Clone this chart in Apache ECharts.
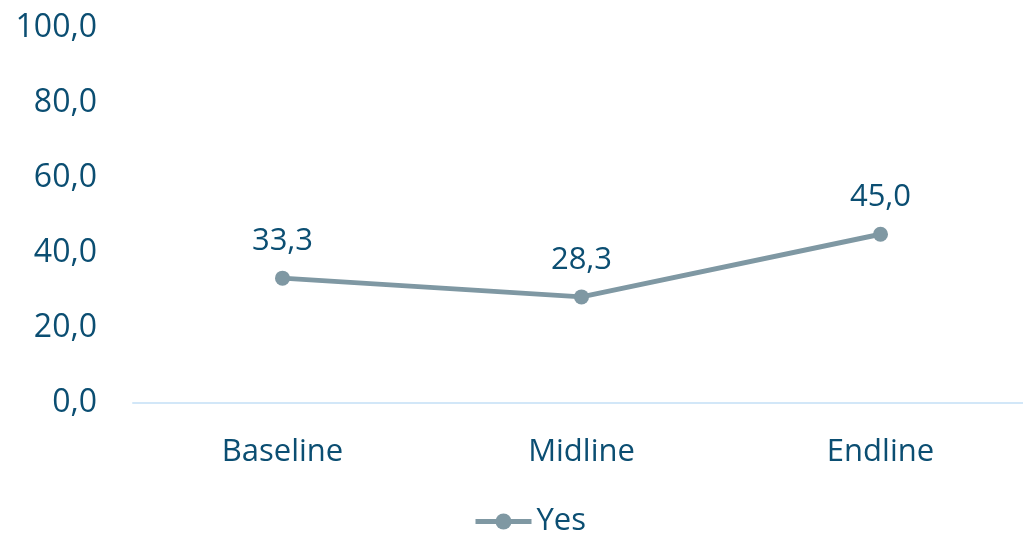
<!DOCTYPE html>
<html>
<head>
<meta charset="utf-8">
<script src="https://cdn.jsdelivr.net/npm/echarts@6/dist/echarts.min.js"></script>
<style>
  html, body { margin: 0; padding: 0; background: #fff; }
  #chart { width: 1023px; height: 533px; }
</style>
</head>
<body>
<div id="chart"></div>
<script>
// Survey rounds and share answering "Yes" (%)
const categories = ['Baseline', 'Midline', 'Endline'];
const yesValues = [33.3, 28.3, 45.0];
const seriesName = 'Yes';

const textColor = '#0B4E72';
const lineColor = '#7F98A3';
const fontFamily = '"Open Sans", sans-serif';

const fmt = v => v.toFixed(1).replace('.', ',');

const chart = echarts.init(document.getElementById('chart'));
chart.setOption({
  animation: false,
  textStyle: { fontFamily: fontFamily },
  // plot area runs slightly past the right edge of the canvas
  grid: {
    left: 133, width: 897, top: 28, height: 375,
    containLabel: false, outerBoundsMode: 'none'
  },
  legend: {
    data: [seriesName],
    left: 473,
    top: 506,
    padding: 0,
    itemWidth: 56,
    itemHeight: 20,
    itemGap: 3,
    lineStyle: { width: 5 },
    textStyle: { color: textColor, fontSize: 31, fontFamily: fontFamily }
  },
  xAxis: {
    type: 'category',
    data: categories,
    boundaryGap: true,
    axisLine: { lineStyle: { color: '#D2E7F8', width: 2 } },
    axisTick: { show: false },
    axisLabel: { color: textColor, fontSize: 31, margin: 34, fontFamily: fontFamily }
  },
  yAxis: {
    type: 'value',
    min: 0,
    max: 100,
    interval: 20,
    axisLine: { show: false },
    axisTick: { show: false },
    splitLine: { show: false },
    axisLabel: {
      color: textColor, fontSize: 32, margin: 36, fontFamily: fontFamily,
      formatter: v => fmt(v)
    }
  },
  series: [{
    name: seriesName,
    type: 'line',
    data: yesValues,
    symbol: 'circle',
    symbolSize: 15,
    itemStyle: { color: lineColor },
    lineStyle: { color: lineColor, width: 5 },
    label: {
      show: true,
      position: 'top',
      distance: 14,
      color: textColor,
      fontSize: 31,
      fontFamily: fontFamily,
      formatter: p => fmt(p.value)
    }
  }]
});
</script>
</body>
</html>
